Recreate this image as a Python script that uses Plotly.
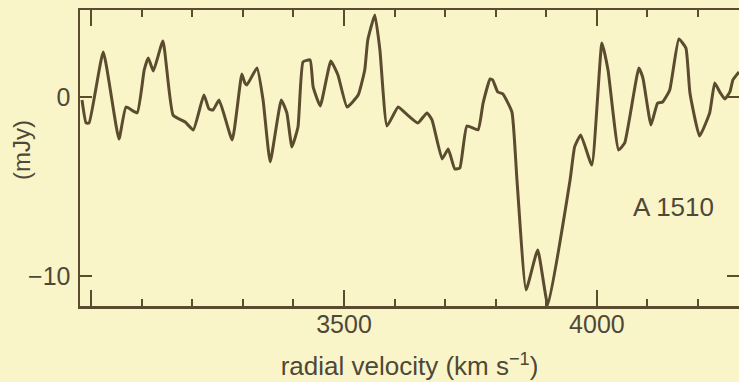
import plotly.graph_objects as go

# Spectrum of A 1510
velocity = [2982, 2990, 2996, 3024, 3055, 3069, 3091, 3105, 3113, 3123, 3142, 3162,
            3186, 3202, 3223, 3233, 3241, 3253, 3279, 3298, 3304, 3308, 3328, 3340,
            3354, 3376, 3387, 3397, 3409, 3419, 3433, 3439, 3453, 3474, 3488, 3506,
            3528, 3541, 3547, 3561, 3571, 3585, 3607, 3621, 3646, 3664, 3674, 3694,
            3706, 3719, 3729, 3743, 3765, 3775, 3789, 3794, 3804, 3814, 3832, 3842,
            3860, 3883, 3903, 3947, 3956, 3968, 3990, 4010, 4022, 4043, 4055, 4083,
            4091, 4107, 4120, 4130, 4144, 4162, 4176, 4184, 4203, 4223, 4233, 4243,
            4253, 4263, 4269, 4281]
flux_mjy = [-0.17, -1.45, -1.45, 2.51, -2.35, -0.56, -0.89, 1.51, 2.18, 1.45, 3.13, -1.01,
            -1.40, -1.84, 0.11, -0.67, -0.73, -0.17, -2.40, 1.28, 0.78, 0.67, 1.62, -0.17,
            -3.63, -0.17, -0.89, -2.79, -1.68, 1.96, 2.07, 0.56, -0.50, 2.01, 1.23, -0.56,
            0.11, 1.51, 3.18, 4.58, 2.63, -1.62, -0.56, -0.89, -1.45, -0.89, -1.28, -3.46,
            -2.91, -4.02, -3.97, -1.62, -1.84, -0.34, 1.01, 0.95, 0.28, 0.17, -0.84, -4.64,
            -10.78, -8.55, -11.62, -4.64, -2.79, -2.12, -3.80, 3.02, 1.51, -2.96, -2.57, 1.62,
            1.06, -1.56, -0.34, -0.28, 0.39, 3.24, 2.74, 0.22, -2.18, -0.89, 0.78, 0.28,
            -0.11, 0.28, 0.95, 1.40]

x_labelled_ticks = [3500, 4000]
x_unlabelled_major = [3000]
y_tickvals = [0, -10]
y_ticktext = ["0", "\u221210"]

X_RANGE = [2978, 4281]
Y_RANGE = [-11.68, 4.86]

BG = "#FAF5C8"
INK = "#5B4C2F"
TXT = "#4E4838"
FONT = "Liberation Sans"

fig = go.Figure()
fig.add_trace(go.Scatter(x=velocity, y=flux_mjy, mode="lines",
                         line=dict(color=INK, width=3, shape="spline", smoothing=0.4),
                         hoverinfo="skip", showlegend=False))
# invisible trace on the overlay axes (they carry the extra ticks only)
fig.add_trace(go.Scatter(x=[velocity[0]], y=[flux_mjy[0]], xaxis="x2", yaxis="y2",
                         mode="lines", line=dict(width=0), hoverinfo="skip",
                         showlegend=False))

fig.update_layout(
    width=739, height=382,
    margin=dict(l=80, r=0, t=10, b=76),
    paper_bgcolor=BG, plot_bgcolor=BG,
    font=dict(family=FONT, size=25, color=TXT),
    xaxis=dict(range=X_RANGE, showgrid=False, zeroline=False, automargin=False,
               showline=True, linecolor=INK, linewidth=2.5, mirror="ticks",
               tickvals=x_labelled_ticks,
               ticks="inside", ticklen=16, tickwidth=2, tickcolor=INK,
               ticklabelstandoff=-6,
               minor=dict(dtick=100, tick0=3000, ticks="inside", ticklen=7,
                          tickwidth=2, tickcolor=INK, showgrid=False),
               title=dict(text="radial velocity (km s<sup>\u22121</sup>)",
                          font=dict(size=26), standoff=21)),
    xaxis2=dict(range=X_RANGE, overlaying="x", side="bottom", automargin=False,
                showgrid=False, zeroline=False, showline=False, mirror="ticks",
                tickvals=x_unlabelled_major, showticklabels=False,
                ticks="inside", ticklen=16, tickwidth=2, tickcolor=INK),
    yaxis=dict(range=Y_RANGE, showgrid=False, zeroline=False, automargin=False,
               showline=True, linecolor=INK, linewidth=2.5,
               tickvals=y_tickvals, ticktext=y_ticktext,
               ticks="inside", ticklen=12, tickwidth=2, tickcolor=INK,
               ticklabelstandoff=2),
    yaxis2=dict(range=Y_RANGE, overlaying="y", side="right", automargin=False,
                showgrid=False, zeroline=False, showline=False,
                tickvals=y_tickvals, showticklabels=False,
                ticks="inside", ticklen=12, tickwidth=2, tickcolor=INK),
    annotations=[
        dict(text="(mJy)", textangle=-90, xref="paper", yref="paper",
             x=0, y=0.527, xanchor="center", yanchor="middle", xshift=-59,
             showarrow=False, font=dict(size=24, color=TXT)),
        dict(text="A 1510", xref="paper", yref="paper",
             x=1, y=0.334, xanchor="right", yanchor="middle", xshift=-23,
             showarrow=False, font=dict(size=26, color=TXT)),
    ],
)

fig.write_html("out.html", config={"displayModeBar": False, "staticPlot": True},
               post_script="document.body.style.margin='0';"
                           "document.body.style.overflow='hidden';"
                           "document.body.style.background='" + BG + "';")
